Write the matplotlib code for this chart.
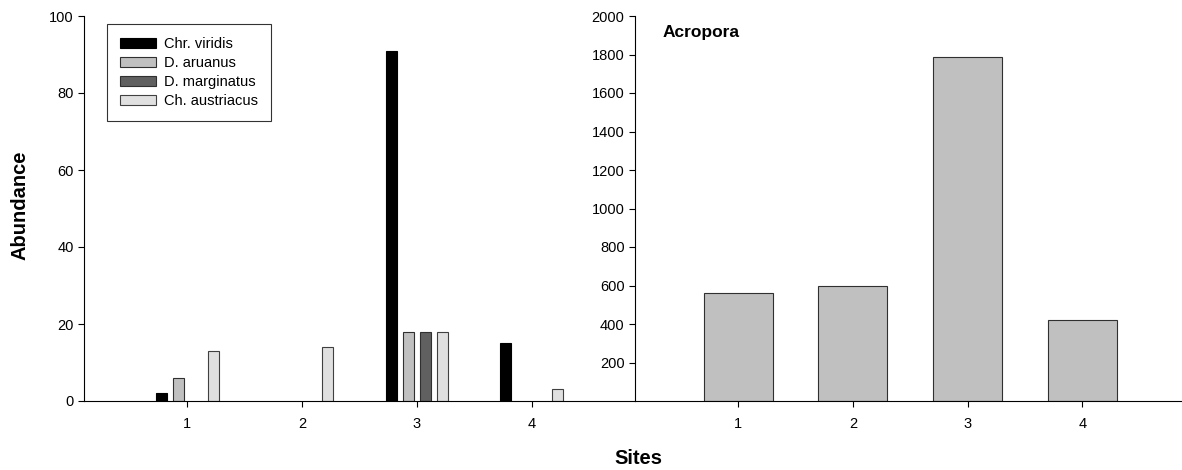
import numpy as np
import matplotlib.pyplot as plt

plt.rcParams['font.family'] = ['Liberation Sans', 'DejaVu Sans']

# abundance of fish per site
sites = [1, 2, 3, 4]
species = ['Chr. viridis', 'D. aruanus', 'D. marginatus', 'Ch. austriacus']
chr_viridis = [2, 0, 91, 15]
d_aruanus = [6, 0, 18, 0]
d_marginatus = [0, 0, 18, 0]
ch_austriacus = [13, 14, 18, 3]

# acropora colonies per site
acropora = [560, 600, 1785, 420]

fish_colors = ['#000000', '#c0c0c0', '#606060', '#e0e0e0']
fish_edges = ['#000000', '#303030', '#303030', '#404040']

fig = plt.figure(figsize=(11.82, 4.70), dpi=100)
W, H = 1182, 470

def px_axes(x0, x1, y0, y1):
    return fig.add_axes([x0 / W, 1 - y1 / H, (x1 - x0) / W, (y1 - y0) / H])

ax1 = px_axes(84, 635, 16, 401)
ax2 = px_axes(635, 1182, 16, 401)

#----- left panel: fish -----
x = np.array(sites)
pitch = 0.15
width = 0.095
series = [chr_viridis, d_aruanus, d_marginatus, ch_austriacus]
handles = []
for i, vals in enumerate(series):
    off = (i - 1.5) * pitch
    vals = np.array(vals, dtype=float)
    keep = vals > 0
    ax1.bar(x[keep] + off, vals[keep], width, color=fish_colors[i],
            edgecolor=fish_edges[i], linewidth=0.8, zorder=2)
    handles.append(plt.Rectangle((0, 0), 1, 1, facecolor=fish_colors[i],
                                 edgecolor=fish_edges[i], linewidth=0.8))

ax1.set_xlim(0.1, 4.9)
ax1.set_ylim(0, 100)
ax1.set_yticks(range(0, 101, 20))
ax1.set_xticks(sites)

leg = ax1.legend(handles, species, loc='upper left',
                 bbox_to_anchor=(107 / W, 1 - 24 / H), bbox_transform=fig.transFigure,
                 fontsize=10.5, frameon=True, fancybox=False, borderaxespad=0,
                 handlelength=2.45, handleheight=0.72, handletextpad=0.55,
                 labelspacing=0.34, borderpad=0.9)
leg.get_frame().set_edgecolor('black')
leg.get_frame().set_linewidth(0.8)

#----- right panel: acropora -----
ax2.bar(sites, acropora, 0.6, color='#c0c0c0', edgecolor='#303030',
        linewidth=0.8, zorder=2)
ax2.set_xlim(0.1, 4.87)
ax2.set_ylim(0, 2000)
ax2.set_yticks(range(200, 2001, 200))
ax2.set_xticks(sites)
ax2.text(663 / W, 1 - 32 / H, 'Acropora', transform=fig.transFigure,
         fontsize=12.5, fontweight='bold', va='center', ha='left')

for ax in (ax1, ax2):
    ax.spines['top'].set_visible(False)
    ax.spines['right'].set_visible(False)
    for s in ('left', 'bottom'):
        ax.spines[s].set_linewidth(0.8)
    ax.tick_params(axis='both', direction='out', length=4.5, width=0.8,
                   labelsize=10.5)
    ax.tick_params(axis='y', pad=3)
    ax.tick_params(axis='x', pad=7)
    ax.patch.set_alpha(0)

fig.text(20 / W, 1 - 205 / H, 'Abundance', rotation=90, fontsize=14.5,
         fontweight='bold', ha='center', va='center')
fig.text(638 / W, 1 - 459 / H, 'Sites', fontsize=14.5, fontweight='bold',
         ha='center', va='center')

fig.savefig('out.png', dpi=100)
